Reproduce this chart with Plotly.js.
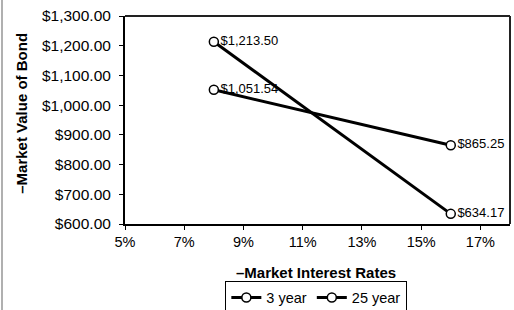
<!DOCTYPE html>
<html><head><meta charset="utf-8">
<script src="https://cdn.plot.ly/plotly-3.0.1.min.js"></script>
<style>
html,body{margin:0;padding:0;background:#fff;}
#wrap{position:relative;width:514px;height:310px;overflow:hidden;}
#bar{position:absolute;left:1px;top:0;width:2px;height:310px;background:#b0b0b0;}
#chart{position:absolute;left:0;top:0;width:514px;height:310px;}
</style></head>
<body><div id="wrap"><div id="chart"></div><div id="bar"></div></div>
<script>
const rates = [0.08, 0.16];
const seriesNames = ["3 year", "25 year"];
const values3yr = [1051.54, 865.25];
const values25yr = [1213.50, 634.17];
const xTickVals = [0.05, 0.07, 0.09, 0.11, 0.13, 0.15, 0.17];
const yTickVals = [600, 700, 800, 900, 1000, 1100, 1200, 1300];

const fmt = v => '$' + v.toLocaleString('en-US', {minimumFractionDigits: 2, maximumFractionDigits: 2});
const font = 'Liberation Sans, Arial, sans-serif';

function mk(name, vals) {
  return {
    x: rates, y: vals, name: name, type: 'scatter', mode: 'lines+markers+text',
    line: {color: '#000', width: 3},
    marker: {symbol: 'circle', size: 9, color: '#fff', line: {color: '#000', width: 1.5}},
    text: vals.map(fmt), textposition: 'middle right',
    textfont: {family: font, size: 13, color: '#000'},
    cliponaxis: false, hoverinfo: 'skip'
  };
}

const data = [mk(seriesNames[0], values3yr), mk(seriesNames[1], values25yr)];

const layout = {
  width: 514, height: 310,
  margin: {l: 125, r: 4, t: 16, b: 86, autoexpand: false},
  paper_bgcolor: '#fff', plot_bgcolor: '#fff',
  font: {family: font, size: 14, color: '#000'},
  showlegend: true,
  legend: {orientation: 'h', x: 0.497, xanchor: 'center', y: -0.272, yanchor: 'top',
    bordercolor: '#000', borderwidth: 1, font: {family: font, size: 14.5, color: '#000'},
    tracegroupgap: 0, itemwidth: 30},
  xaxis: {range: [0.05, 0.18], tickvals: xTickVals, tickformat: '.0%',
    showgrid: false, zeroline: false, showline: true, linecolor: '#000', linewidth: 2,
    ticks: 'outside', ticklen: 4, tickcolor: '#000', mirror: false,
    tickfont: {family: font, size: 14.5, color: '#000'}},
  yaxis: {range: [600, 1300], tickvals: yTickVals, ticktext: yTickVals.map(fmt),
    showgrid: false, zeroline: false, showline: true, linecolor: '#000', linewidth: 2,
    ticks: 'outside', ticklen: 4, tickcolor: '#000', ticklabelstandoff: 5,
    tickfont: {family: font, size: 15.5, color: '#000'}},
  shapes: [
    {type: 'line', xref: 'paper', yref: 'paper', x0: 0, x1: 1, y0: 1, y1: 1, line: {color: '#222', width: 2}},
    {type: 'line', xref: 'paper', yref: 'paper', x0: 1, x1: 1, y0: 0, y1: 1, line: {color: '#222', width: 2}}
  ],
  annotations: [
    {text: '<b>–Market Interest Rates</b>', xref: 'paper', yref: 'paper', x: 0.497, y: -0.235,
      xanchor: 'center', yanchor: 'middle', showarrow: false, font: {family: font, size: 15, color: '#000'}},
    {text: '<b>–Market Value of Bond</b>', xref: 'paper', yref: 'paper', x: -0.2675, y: 0.53,
      xanchor: 'center', yanchor: 'middle', textangle: -90, showarrow: false, font: {family: font, size: 15, color: '#000'}}
  ]
};

Plotly.newPlot('chart', data, layout, {staticPlot: true, displayModeBar: false});
</script></body></html>
